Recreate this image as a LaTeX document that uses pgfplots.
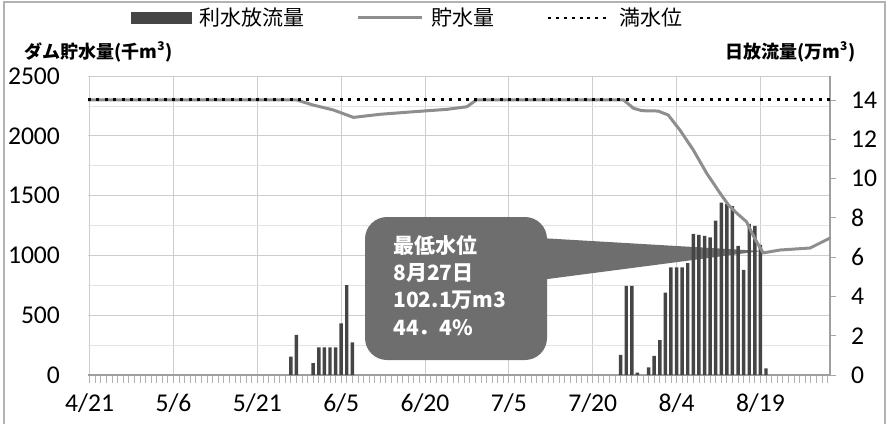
\documentclass[border=0pt]{standalone}
\usepackage{fontspec}
\setmainfont{Carlito}
\newfontfamily\jp{Noto Sans CJK JP}
\usepackage{pgfplots}
\usepackage{pgfplotstable}
\pgfplotsset{compat=1.18}

\definecolor{barc}{HTML}{454545}
\definecolor{linec}{HTML}{8E8E8E}
\definecolor{callc}{HTML}{6E6E6E}
\definecolor{gridc}{HTML}{CDCDCD}

% day 0 = 4/21, discharge in 10^4 m3/day
\pgfplotstableread{
day q
36 0.93
37 2.04
40 0.60
41 1.41
42 1.41
43 1.41
44 1.41
45 2.63
46 4.58
47 1.66
95 1.02
96 4.53
97 4.53
98 0.12
100 0.39
101 0.97
102 1.78
103 4.19
104 5.48
105 5.48
106 5.48
107 5.69
108 7.18
109 7.13
110 7.08
111 7.01
112 7.86
113 8.77
114 8.71
115 8.60
116 6.57
117 5.35
118 7.69
119 7.59
120 6.62
121 0.34
}\flowtab

% storage in 1000 m3
\pgfplotstableread{
day v
-0.29 2300
37.0 2300
40.0 2257
43.6 2216
47.2 2154
52.0 2180
57.9 2201
63.9 2221
67.5 2243
69.2 2300
95.5 2300
97.3 2230
98.8 2210
101.7 2207
103.5 2174
105.6 2048
108.0 1881
110.4 1686
112.8 1519
114.3 1421
115.8 1352
117.5 1282
119.0 1140
120.5 1021
123.5 1045
128.9 1062
132.45 1145
}\storetab

\pgfplotsset{
  base/.style={
    at={(44pt,-187.5pt)}, anchor=south west,
    scale only axis, width=371pt, height=149.5pt,
    xmin=-0.29, xmax=132.45,
    ticklabel style={font=\fontsize{12.8}{14}\selectfont},
    /pgf/number format/assume math mode=true,
    /pgf/number format/set thousands separator={},
  }
}

\begin{document}
\begin{tikzpicture}
\path[use as bounding box] (0,0) rectangle (444pt,-211.5pt);

% grid + left axis + date axis
\begin{axis}[base,
  ymin=0, ymax=2500,
  axis x line*=bottom, axis y line*=left,
  x axis line style={gray!75, line width=0.6pt},
  y axis line style={draw=none},
  xtick={0,15,...,120},
  xticklabels={4/21,5/6,5/21,6/5,6/20,7/5,7/20,8/4,8/19},
  minor xtick={0,1,...,132},
  ytick={0,500,...,2500},
  minor ytick={250,750,...,2250},
  tick align=outside,
  major tick length=4pt, minor tick length=4pt,
  xtick style={gray!60, line width=0.4pt},
  ytick style={draw=none},
  ymajorgrids, xmajorgrids, yminorgrids,
  major grid style={gridc, line width=0.5pt},
  minor grid style={gridc!55, line width=0.4pt},
  yticklabel style={xshift=-6.5pt},
  xticklabel style={yshift=-2pt},
]
\end{axis}

% callout
\begin{scope}[x=0.5pt, y=-0.5pt]
\fill[callc] (540,238) -- (762,251) -- (540,280) -- cycle;
\fill[callc, rounded corners=11pt] (365,217) rectangle (547,360);
\begin{scope}[every node/.style={anchor=west, text=white, inner sep=0pt,
    font=\jp\bfseries\fontsize{10.5}{11}\selectfont}]
\node at (393,246) {最低水位};
\node at (393,273) {8月27日};
\node at (393,300) {102.1万m3};
\node at (393,328) {44．4\%};
\end{scope}
\end{scope}

% discharge bars, right axis
\begin{axis}[base,
  ymin=0, ymax=15.2174,
  axis x line=none, axis y line*=right,
  y axis line style={gray!75, line width=0.6pt},
  ytick={0,2,...,14},
  tick align=outside, major tick length=3pt,
  ytick style={gray!70, line width=0.4pt},
  yticklabel style={xshift=4pt},
]
\addplot[ybar, bar width=0.62, fill=barc, draw=none] table[x=day, y=q] {\flowtab};
\end{axis}

% storage and full level, left scale
\begin{axis}[base,
  ymin=0, ymax=2500, hide axis,
  legend style={at={(0.4326,1.194)}, anchor=center, draw=none, fill=none,
    inner sep=0pt, legend columns=3,
    font=\jp\fontsize{10.5}{12}\selectfont,
    /tikz/every even column/.append style={column sep=24pt},
    /tikz/every odd column/.append style={column sep=2pt}},
  legend cell align=left,
]
\addplot[linec, line width=1.5pt, forget plot] table[x=day, y=v] {\storetab};
\addplot[black, line width=1.5pt, dash pattern=on 1.5pt off 2.7pt, forget plot]
  coordinates {(-0.29,2300) (132.45,2300)};
\addlegendimage{legend image code/.code={\fill[barc] (0pt,-2.6pt) rectangle (30pt,2.6pt);}}
\addlegendentry{利水放流量}
\addlegendimage{legend image code/.code={\draw[linec, line width=1.5pt] (0pt,0pt) -- (32pt,0pt);}}
\addlegendentry{貯水量}
\addlegendimage{legend image code/.code={\draw[black, line width=1.4pt, dash pattern=on 1.5pt off 2.4pt] (0pt,0pt) -- (31pt,0pt);}}
\addlegendentry{満水位}
\end{axis}

% axis titles and frame
\begin{scope}[x=0.5pt, y=-0.5pt]
\node[anchor=west, inner sep=0pt, font=\jp\bfseries\fontsize{9}{10}\selectfont]
  at (24,52) {ダム貯水量(千m\textsuperscript{3})};
\node[anchor=east, inner sep=0pt, font=\jp\bfseries\fontsize{9}{10}\selectfont]
  at (856,52) {日放流量(万m\textsuperscript{3})};
\draw[gray!60, line width=0.8pt] (4,2) rectangle (885,440);
\end{scope}
\end{tikzpicture}
\end{document}
